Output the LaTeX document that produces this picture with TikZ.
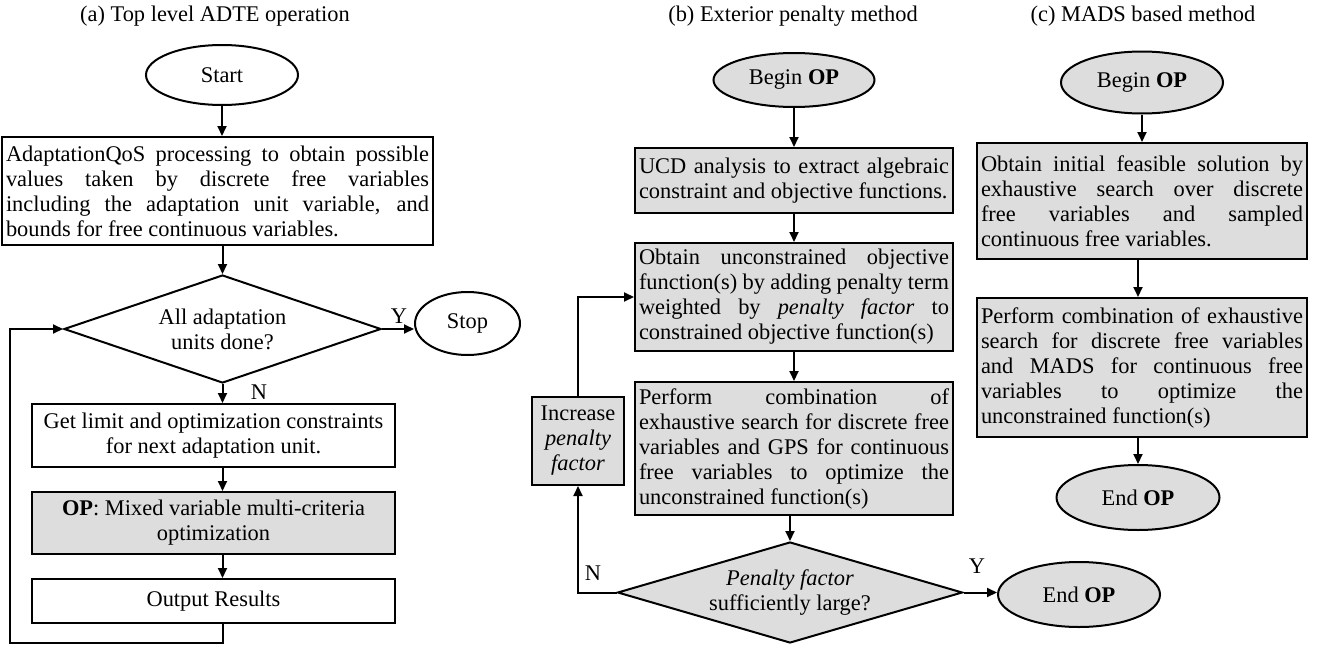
\documentclass[tikz,border=0pt]{standalone}
\usepackage{fontspec}
\setmainfont{Liberation Serif}
\usetikzlibrary{shapes.geometric,arrows.meta}
\definecolor{boxgray}{RGB}{221,221,221}
\begin{document}
\begin{tikzpicture}[x=0.5pt,y=-0.5pt,
 txt/.style={font=\fontsize{11.2}{12.5}\selectfont},
 bd/.style={draw, line width=1pt},
 gfill/.style={fill=boxgray},
 rbox/.style={bd, rectangle, inner xsep=2pt, inner ysep=0pt, txt},
 ell/.style={bd, ellipse, inner sep=0pt, txt},
 dia/.style={bd, diamond, inner sep=0pt, txt},
 arr/.style={line width=1pt, -{Triangle[length=5pt,width=4.5pt]}},
 lbl/.style={txt, inner sep=0pt},
 execute at begin node={\hyphenpenalty=10000 \tolerance=9999 }
]
\useasboundingbox (0,0) rectangle (1318,648);

% ---------- (a) ----------
\node[lbl] (ta) at (215,16) {(a) Top level ADTE operation};
\node[ell, minimum width=76pt, minimum height=30pt] (start) at (222,75) {Start};
\node[rbox, minimum width=215.5pt, minimum height=54pt, text width=211.5pt, align=justify] (b1) at (217.5,191)
 {AdaptationQoS processing to obtain possible\linebreak values taken by discrete free variables\linebreak including the adaptation unit variable, and\linebreak bounds for free continuous variables.};
\node[dia, minimum width=158.5pt, minimum height=54pt, shape aspect=2.94, align=center] (d1) at (222.5,329) {All adaptation\\units done?};
\node[ell, minimum width=52.5pt, minimum height=31.5pt] (stop) at (467.5,323.5) {Stop};
\node[rbox, minimum width=181.5pt, minimum height=31.5pt, align=center] (b2) at (213.5,435.5) {Get limit and optimization constraints\\for next adaptation unit.};
\node[rbox, gfill, minimum width=181.5pt, minimum height=31pt, align=center] (b3) at (213.5,523) {\textbf{OP}: Mixed variable multi-criteria\\optimization};
\node[rbox, minimum width=181.5pt, minimum height=22pt] (b4) at (213.5,601) {Output Results};
\coordinate (lp) at (222.5,643);
\coordinate (lq) at (10,643);
\node[lbl] (ly1) at (399,316) {Y};
\node[lbl] (ln1) at (259,392) {N};

\draw[arr] (start.south) -- (start.south |- b1.north);
\draw[arr] (b1.south -| d1.north) -- (d1.north);
\draw[arr] (d1.south) -- (d1.south |- b2.north);
\draw[arr] (b2.south -| d1.south) -- (b3.north -| d1.south);
\draw[arr] (b3.south -| d1.south) -- (b4.north -| d1.south);
\draw[arr] (b4.south -| d1.south) -- (lp) -- (lq) |- (d1.west);
\draw[arr] (d1.east) -- (d1.east -| stop.west);

% ---------- (b) ----------
\node[lbl] (tb) at (793,16) {(b) Exterior penalty method};
\node[ell, gfill, minimum width=80.5pt, minimum height=27pt] (bb) at (794,80) {Begin \textbf{OP}};
\node[rbox, gfill, minimum width=159pt, minimum height=32.5pt, text width=155pt, align=justify] (ucd) at (794,180.5)
 {UCD analysis to extract algebraic\linebreak constraint and objective functions.};
\node[rbox, gfill, minimum width=159pt, minimum height=54pt, text width=155pt, align=justify] (obt) at (794,297)
 {Obtain unconstrained objective\linebreak function(s) by adding penalty term\linebreak weighted by \textit{penalty factor} to\linebreak constrained objective function(s)};
\node[rbox, gfill, minimum width=159pt, minimum height=66.5pt, text width=155pt, align=justify] (perf) at (794,448.5)
 {Perform combination of\linebreak exhaustive search for discrete free\linebreak variables and GPS for continuous\linebreak free variables to optimize the\linebreak unconstrained function(s)};
\node[dia, gfill, minimum width=172.5pt, minimum height=50.5pt, shape aspect=3.4, align=center] (d2) at (790,592.5) {\textit{Penalty factor}\\sufficiently large?};
\node[ell, gfill, minimum width=81pt, minimum height=32.5pt] (be) at (1079,594.5) {End \textbf{OP}};
\node[rbox, gfill, minimum width=46pt, minimum height=44pt, inner xsep=0pt, align=center] (inc) at (578,441) {Increase\\\textit{penalty}\\\textit{factor}};
\node[lbl] (ln2) at (593,573) {N};
\node[lbl] (ly2) at (977,566) {Y};

\draw[arr] (bb.south) -- (bb.south |- ucd.north);
\draw[arr] (ucd.south) -- (obt.north);
\draw[arr] (obt.south) -- (perf.north);
\draw[arr] (perf.south -| d2.north) -- (d2.north);
\draw[arr] (d2.east) -- (d2.east -| be.west);
\draw[arr] (d2.west) -| (inc.south);
\draw[arr] (inc.north) |- (obt.west);

% ---------- (c) ----------
\node[lbl] (tc) at (1143,16) {(c) MADS based method};
\node[ell, gfill, minimum width=81pt, minimum height=31pt] (cb) at (1142,82.5) {Begin \textbf{OP}};
\node[rbox, gfill, minimum width=165pt, minimum height=58pt, text width=161pt, align=justify] (c1) at (1142,201)
 {Obtain initial feasible solution by\linebreak exhaustive search over discrete\linebreak free variables and sampled\linebreak continuous free variables.};
\node[rbox, gfill, minimum width=165pt, minimum height=69.5pt, text width=161pt, align=justify] (c2) at (1142,367.5)
 {Perform combination of exhaustive\linebreak search for discrete free variables\linebreak and MADS for continuous free\linebreak variables to optimize the\linebreak unconstrained function(s)};
\node[ell, gfill, minimum width=81.5pt, minimum height=32.5pt] (ce) at (1138,497.5) {End \textbf{OP}};

\draw[arr] (cb.south) -- (cb.south |- c1.north);
\draw[arr] (c1.south -| ce.north) -- (ce.north |- c2.north);
\draw[arr] (c2.south -| ce.north) -- (ce.north);
\end{tikzpicture}
\end{document}
